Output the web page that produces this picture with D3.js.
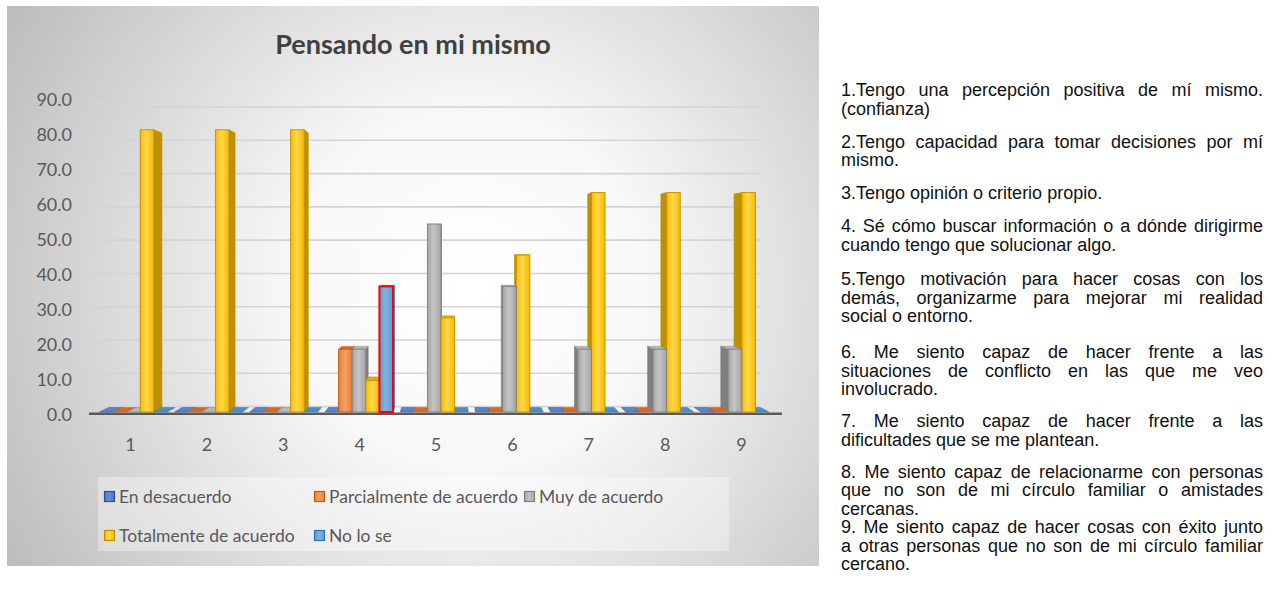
<!DOCTYPE html>
<html><head><meta charset="utf-8">
<script src="https://cdn.jsdelivr.net/npm/d3@7"></script>
<style>body{margin:0;background:#fff;} svg{display:block}</style>
</head><body>
<svg id="c" width="1272" height="591"></svg>
<script>
// ---------- DATA ----------
const categories = ["1","2","3","4","5","6","7","8","9"];
const seriesNames = ["En desacuerdo","Parcialmente de acuerdo","Muy de acuerdo","Totalmente de acuerdo","No lo se"];
const enDesacuerdo = [0,0,0,0,0,0,0,0,0];
const parcialmente = [0,0,0,18.2,0,0,0,0,0];
const muyDeAcuerdo = [0,0,0,18.2,54.5,36.4,18.2,18.2,18.2];
const totalmente   = [81.8,81.8,81.8,9.1,27.3,45.5,63.6,63.6,63.6];
const noLoSe       = [0,0,0,36.4,0,0,0,0,0];
const yTicks = [0,10,20,30,40,50,60,70,80,90];
const highlightPoints = [["No lo se","4"]];
const chartTitle = "Pensando en mi mismo";
const notes = [
  ["1.Tengo una percepción positiva de mí mismo.", "(confianza)"],
  ["2.Tengo capacidad para tomar decisiones por mí", "mismo."],
  ["3.Tengo opinión o criterio propio."],
  ["4. Sé cómo buscar información o a dónde dirigirme", "cuando tengo que solucionar algo."],
  ["5.Tengo motivación para hacer cosas con los", "demás, organizarme para mejorar mi realidad", "social o entorno."],
  ["6. Me siento capaz de hacer frente a las", "situaciones de conflicto en las que me veo", "involucrado."],
  ["7. Me siento capaz de hacer frente a las", "dificultades que se me plantean."],
  ["8. Me siento capaz de relacionarme con personas", "que no son de mi círculo familiar o amistades", "cercanas."],
  ["9. Me siento capaz de hacer cosas con éxito junto", "a otras personas que no son de mi círculo familiar", "cercano."]
];
const seriesValues = [enDesacuerdo, parcialmente, muyDeAcuerdo, totalmente, noLoSe];

// ---------- STYLE ----------
const styles = [
  {base:"#4472C4", light:"#6a8fd3", side:"#2F528F", top:"#5a83cf", stroke:"#2F528F"},
  {base:"#ED7D31", light:"#f4a06a", side:"#C55A11", top:"#d76a22", stroke:"#C55A11"},
  {base:"#A5A5A5", light:"#c4c4c4", side:"#7F7F7F", top:"#b8b8b8", stroke:"#7F7F7F"},
  {base:"#F7BA00", light:"#ffd84a", side:"#BF9000", top:"#e6ad00", stroke:"#BF9000"},
  {base:"#5B9BD5", light:"#80b3e0", side:"#2E75B6", top:"#4a8ccc", stroke:"#2E75B6"}
];
const chartFont = "Lato, 'Open Sans', sans-serif";
const textColor = "#595959";

const svg = d3.select("#c");
const defs = svg.append("defs");

// background
const bg = defs.append("radialGradient").attr("id","bg")
  .attr("gradientUnits","userSpaceOnUse").attr("cx",470).attr("cy",290).attr("r",540);
[[0,"#ffffff"],[0.33,"#f8f8f8"],[1,"#bcbcbc"]].forEach(([o,c])=>bg.append("stop").attr("offset",o).attr("stop-color",c));
svg.append("rect").attr("x",7).attr("y",6).attr("width",812).attr("height",560).attr("fill","url(#bg)");

// front-face gradients
styles.forEach((s,i)=>{
  const g = defs.append("linearGradient").attr("id","gr"+i).attr("x1",0).attr("x2",1).attr("y1",0).attr("y2",0);
  [[0,s.base],[0.45,s.light],[1,s.base]].forEach(([o,c])=>g.append("stop").attr("offset",o).attr("stop-color",c));
});

// scales
const yLeft  = d3.scaleLinear().domain([0,90]).range([414,99]);
const yBack  = d3.scaleLinear().domain([0,90]).range([406.6,107]);
const yFront = d3.scaleLinear().domain([0,90]).range([412,101.5]);
const xBand = d3.scaleBand().domain(categories).range([95.8,772.6]).paddingInner(0.0957).paddingOuter(0.0957/2);
const xSub = d3.scaleBand().domain(seriesNames).range([0, xBand.bandwidth()]);
const xLabel = d3.scalePoint().domain(categories).range([130,741]);

// title
svg.append("text").attr("x",413).attr("y",54).attr("text-anchor","middle")
  .attr("font-family",chartFont).attr("font-weight","bold").attr("font-size",27)
  .attr("fill","#404040").text(chartTitle);

// gridlines (back wall + left wall)
const wallLeftFront = 90, wallLeftBack = 110, wallRight = 760;
svg.append("g").selectAll("path").data(yTicks).join("path")
  .attr("d", v => d3.line()([[wallLeftFront, yLeft(v)],[wallLeftBack, yBack(v)],[wallRight, yBack(v)]]))
  .attr("fill","none").attr("stroke","#d4d4d4").attr("stroke-width",1.6);

// y axis labels
const yAxis = svg.append("g").attr("transform","translate(72,0)")
  .call(d3.axisLeft(yLeft).tickValues(yTicks).tickFormat(d3.format(".1f")).tickSize(0).tickPadding(0));
yAxis.select(".domain").remove();
yAxis.selectAll("text").attr("font-family",chartFont).attr("font-size",18).attr("fill",textColor).attr("dy","0.36em");

// floor front edge
svg.append("line").attr("x1",89).attr("x2",782).attr("y1",yFront(0)+1.8).attr("y2",yFront(0)+1.8)
  .attr("stroke","#595959").attr("stroke-width",2.6);

// bars (perspective 3D)
const vp = {x:454, y:245}, kb = 0.973;
const P = (p)=>[vp.x+(p[0]-vp.x)*kb, vp.y+(p[1]-vp.y)*kb];
const pts = a => a.map(p=>p[0].toFixed(2)+","+p[1].toFixed(2)).join(" ");
const bars = [];
seriesNames.forEach((name,si)=>categories.forEach((c,ci)=>{
  const x0 = xBand(c)+xSub(name), x1 = x0 + xSub.bandwidth();
  const v = seriesValues[si][ci];
  bars.push({si, c, name, v, x0, x1, yT:yFront(v), yB:yFront(0), cx:(x0+x1)/2,
    hl: highlightPoints.some(h=>h[0]===name && h[1]===c)});
}));
bars.sort((a,b)=>Math.abs(b.cx-vp.x)-Math.abs(a.cx-vp.x));
const gBars = svg.append("g");
bars.forEach(b=>{
  const st = styles[b.si];
  const g = gBars.append("g");
  const A=[b.x0,b.yT], B=[b.x1,b.yT], C=[b.x1,b.yB], D=[b.x0,b.yB];
  const A2=P(A), B2=P(B), C2=P(C), D2=P(D);
  const sc = b.hl ? "#ff0000" : st.stroke;
  if (b.v>0){
    if (b.x1 < vp.x) g.append("polygon").attr("points",pts([B,C,C2,B2])).attr("fill",st.side).attr("stroke",st.stroke).attr("stroke-width",0.6);
    if (b.x0 > vp.x) g.append("polygon").attr("points",pts([A,D,D2,A2])).attr("fill",st.side).attr("stroke",st.stroke).attr("stroke-width",0.6);
  }
  if (b.yT > vp.y) g.append("polygon").attr("points",pts([A,B,B2,A2])).attr("fill",st.top).attr("stroke",st.stroke).attr("stroke-width",0.5);
  if (b.v>0){
    g.append("rect").attr("x",b.x0).attr("y",b.yT).attr("width",b.x1-b.x0).attr("height",b.yB-b.yT)
      .attr("fill","url(#gr"+b.si+")").attr("stroke",sc).attr("stroke-width",b.hl?2:0.9);
  }
});

// x axis labels
const xAxis = svg.append("g").attr("transform","translate(0,451)")
  .call(d3.axisBottom(xLabel).tickSize(0).tickPadding(0));
xAxis.select(".domain").remove();
xAxis.selectAll("text").attr("y",0).attr("dy",0).attr("font-family",chartFont).attr("font-size",18).attr("fill",textColor);

// legend
const legendPos = [[104,491],[314,491],[524,491],[104,530],[314,530]];
svg.append("rect").attr("x",98).attr("y",477).attr("width",631).attr("height",74)
  .attr("fill","#ffffff").attr("fill-opacity",0.35);
const lg = svg.append("g").selectAll("g").data(seriesNames).join("g")
  .attr("transform",(d,i)=>`translate(${legendPos[i][0]},${legendPos[i][1]})`);
lg.append("rect").attr("x",0.5).attr("y",0.5).attr("width",10).attr("height",10)
  .attr("fill",(d,i)=>`url(#gr${i})`).attr("stroke",(d,i)=>styles[i].stroke).attr("stroke-width",1.2);
lg.append("text").attr("x",15).attr("y",11.5).attr("font-family",chartFont).attr("font-size",17.5)
  .attr("fill",textColor).text(d=>d);

// right-side notes (justified)
const noteX0 = 841, noteX1 = 1263, lineH = 18.5;
const paraGaps = [14.5,14.5,14.5,16,17.5,13.5,13.5,0];
const noteG = svg.append("g").attr("font-family","'Liberation Sans', Arial, sans-serif").attr("font-size",18).attr("fill","#111");
let y = 96;
notes.forEach((para,pi)=>{
  para.forEach((line,li)=>{
    const t = noteG.append("text").attr("x",noteX0).attr("y",y).text(line);
    if (li < para.length-1){
      const len = t.node().getComputedTextLength();
      const spaces = (line.match(/ /g)||[]).length;
      if (spaces>0) t.attr("word-spacing", ((noteX1-noteX0-len)/spaces).toFixed(3));
    }
    y += lineH;
  });
  if (pi < paraGaps.length) y += paraGaps[pi];
});
</script>
</body></html>
